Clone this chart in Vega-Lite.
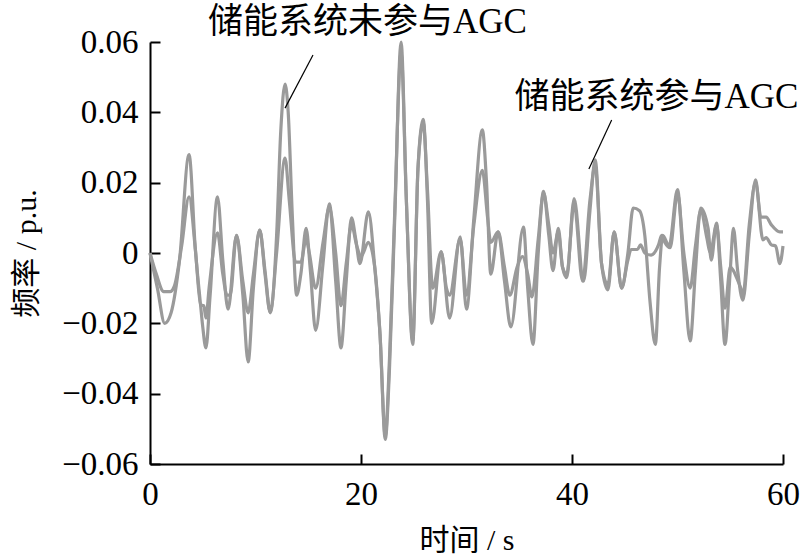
{
  "$schema": "https://vega.github.io/schema/vega-lite/v6.json",
  "width": 633,
  "height": 422,
  "autosize": {"type": "none"},
  "padding": {"left": 150, "top": 42, "right": 17, "bottom": 96},
  "background": "white",
  "config": {
    "view": {"stroke": null},
    "font": "Liberation Serif, Noto Sans CJK SC",
    "axis": {
      "domainColor": "black",
      "domainWidth": 2,
      "tickColor": "black",
      "tickWidth": 2,
      "tickSize": -10,
      "grid": false,
      "labelFont": "Liberation Serif",
      "labelFontSize": 33,
      "labelColor": "black",
      "titleFont": "Liberation Serif, Noto Sans CJK SC",
      "titleFontSize": 30,
      "titleFontWeight": "normal",
      "titleColor": "black"
    }
  },
  "datasets": {
    "lines": [
      {"s": "未参与", "t": 0, "v": 0}, {"s": "未参与", "t": 0.7, "v": -0.010}, {"s": "未参与", "t": 1.4, "v": -0.020}, {"s": "未参与", "t": 2.0, "v": -0.017}, {"s": "未参与", "t": 2.8, "v": -0.002}, {"s": "未参与", "t": 3.7, "v": 0.028}, {"s": "未参与", "t": 4.3, "v": 0.001}, {"s": "未参与", "t": 4.8, "v": -0.015}, {"s": "未参与", "t": 5.0, "v": -0.021}, {"s": "未参与", "t": 5.3, "v": -0.027}, {"s": "未参与", "t": 5.7, "v": -0.012}, {"s": "未参与", "t": 6.4, "v": 0.016}, {"s": "未参与", "t": 6.9, "v": -0.002}, {"s": "未参与", "t": 7.4, "v": -0.016}, {"s": "未参与", "t": 8.2, "v": 0.005}, {"s": "未参与", "t": 8.8, "v": -0.012}, {"s": "未参与", "t": 9.3, "v": -0.031}, {"s": "未参与", "t": 9.8, "v": -0.010}, {"s": "未参与", "t": 10.4, "v": 0.0065}, {"s": "未参与", "t": 10.9, "v": -0.006}, {"s": "未参与", "t": 11.4, "v": -0.017}, {"s": "未参与", "t": 12.0, "v": 0.005}, {"s": "未参与", "t": 12.4, "v": 0.035}, {"s": "未参与", "t": 12.8, "v": 0.048}, {"s": "未参与", "t": 13.1, "v": 0.040}, {"s": "未参与", "t": 13.5, "v": 0.010}, {"s": "未参与", "t": 13.9, "v": -0.012}, {"s": "未参与", "t": 14.3, "v": -0.006}, {"s": "未参与", "t": 14.8, "v": 0.007}, {"s": "未参与", "t": 15.2, "v": -0.005}, {"s": "未参与", "t": 15.7, "v": -0.022}, {"s": "未参与", "t": 16.4, "v": -0.003}, {"s": "未参与", "t": 17.0, "v": 0.014}, {"s": "未参与", "t": 17.6, "v": -0.008}, {"s": "未参与", "t": 18.1, "v": -0.027}, {"s": "未参与", "t": 18.6, "v": -0.008}, {"s": "未参与", "t": 19.1, "v": 0.010}, {"s": "未参与", "t": 19.5, "v": 0.004}, {"s": "未参与", "t": 19.9, "v": -0.003}, {"s": "未参与", "t": 20.7, "v": 0.0117}, {"s": "未参与", "t": 21.3, "v": -0.004}, {"s": "未参与", "t": 21.8, "v": -0.023}, {"s": "未参与", "t": 22.3, "v": -0.053}, {"s": "未参与", "t": 22.7, "v": -0.033}, {"s": "未参与", "t": 23.2, "v": 0.010}, {"s": "未参与", "t": 23.8, "v": 0.060}, {"s": "未参与", "t": 24.3, "v": 0.015}, {"s": "未参与", "t": 24.9, "v": -0.026}, {"s": "未参与", "t": 25.4, "v": 0.024}, {"s": "未参与", "t": 25.9, "v": 0.038}, {"s": "未参与", "t": 26.3, "v": 0.015}, {"s": "未参与", "t": 26.7, "v": -0.020}, {"s": "未参与", "t": 27.6, "v": 0.0003}, {"s": "未参与", "t": 28.4, "v": -0.0185}, {"s": "未参与", "t": 29.4, "v": 0.0046}, {"s": "未参与", "t": 30.0, "v": -0.016}, {"s": "未参与", "t": 30.7, "v": 0.010}, {"s": "未参与", "t": 31.5, "v": 0.035}, {"s": "未参与", "t": 31.9, "v": 0.020}, {"s": "未参与", "t": 32.3, "v": -0.006}, {"s": "未参与", "t": 33.0, "v": 0.006}, {"s": "未参与", "t": 33.6, "v": -0.008}, {"s": "未参与", "t": 34.2, "v": -0.021}, {"s": "未参与", "t": 35.4, "v": 0.0074}, {"s": "未参与", "t": 35.8, "v": -0.010}, {"s": "未参与", "t": 36.3, "v": -0.026}, {"s": "未参与", "t": 36.8, "v": 0.000}, {"s": "未参与", "t": 37.3, "v": 0.0175}, {"s": "未参与", "t": 37.8, "v": 0.005}, {"s": "未参与", "t": 38.2, "v": -0.005}, {"s": "未参与", "t": 38.7, "v": 0.007}, {"s": "未参与", "t": 39.1, "v": -0.004}, {"s": "未参与", "t": 39.5, "v": -0.007}, {"s": "未参与", "t": 40.2, "v": 0.0155}, {"s": "未参与", "t": 41.1, "v": -0.008}, {"s": "未参与", "t": 41.7, "v": 0.012}, {"s": "未参与", "t": 42.2, "v": 0.0265}, {"s": "未参与", "t": 42.8, "v": -0.003}, {"s": "未参与", "t": 43.4, "v": -0.0105}, {"s": "未参与", "t": 44.0, "v": 0.006}, {"s": "未参与", "t": 44.7, "v": -0.010}, {"s": "未参与", "t": 45.3, "v": 0.000}, {"s": "未参与", "t": 45.8, "v": 0.0128}, {"s": "未参与", "t": 46.4, "v": 0.012}, {"s": "未参与", "t": 46.9, "v": 0.005}, {"s": "未参与", "t": 47.4, "v": -0.014}, {"s": "未参与", "t": 47.9, "v": -0.026}, {"s": "未参与", "t": 48.3, "v": -0.004}, {"s": "未参与", "t": 48.6, "v": 0.005}, {"s": "未参与", "t": 49.2, "v": 0.002}, {"s": "未参与", "t": 50.0, "v": 0.018}, {"s": "未参与", "t": 50.6, "v": -0.005}, {"s": "未参与", "t": 51.2, "v": -0.025}, {"s": "未参与", "t": 51.7, "v": -0.005}, {"s": "未参与", "t": 52.2, "v": 0.0128}, {"s": "未参与", "t": 52.9, "v": 0.007}, {"s": "未参与", "t": 53.2, "v": -0.002}, {"s": "未参与", "t": 53.7, "v": 0.0085}, {"s": "未参与", "t": 54.1, "v": -0.008}, {"s": "未参与", "t": 54.5, "v": -0.026}, {"s": "未参与", "t": 55.0, "v": -0.005}, {"s": "未参与", "t": 55.3, "v": 0.007}, {"s": "未参与", "t": 55.7, "v": -0.005}, {"s": "未参与", "t": 56.2, "v": -0.0134}, {"s": "未参与", "t": 56.8, "v": 0.005}, {"s": "未参与", "t": 57.4, "v": 0.0208}, {"s": "未参与", "t": 57.9, "v": 0.0102}, {"s": "未参与", "t": 58.4, "v": 0.0102}, {"s": "未参与", "t": 58.9, "v": 0.008}, {"s": "未参与", "t": 59.7, "v": 0.006}, {"s": "未参与", "t": 60.0, "v": 0.006},
      {"s": "参与", "t": 0, "v": 0}, {"s": "参与", "t": 0.6, "v": -0.006}, {"s": "参与", "t": 1.3, "v": -0.011}, {"s": "参与", "t": 1.9, "v": -0.011}, {"s": "参与", "t": 2.3, "v": -0.0095}, {"s": "参与", "t": 3.0, "v": 0.002}, {"s": "参与", "t": 3.7, "v": 0.016}, {"s": "参与", "t": 4.3, "v": 0.001}, {"s": "参与", "t": 4.8, "v": -0.0148}, {"s": "参与", "t": 5.1, "v": -0.015}, {"s": "参与", "t": 5.3, "v": -0.0185}, {"s": "参与", "t": 5.6, "v": -0.010}, {"s": "参与", "t": 6.4, "v": 0.0057}, {"s": "参与", "t": 6.9, "v": -0.006}, {"s": "参与", "t": 7.3, "v": -0.012}, {"s": "参与", "t": 7.6, "v": -0.012}, {"s": "参与", "t": 8.2, "v": 0.005}, {"s": "参与", "t": 8.8, "v": -0.008}, {"s": "参与", "t": 9.3, "v": -0.017}, {"s": "参与", "t": 9.8, "v": -0.006}, {"s": "参与", "t": 10.4, "v": 0.0065}, {"s": "参与", "t": 10.9, "v": -0.005}, {"s": "参与", "t": 11.4, "v": -0.0168}, {"s": "参与", "t": 12.0, "v": 0.000}, {"s": "参与", "t": 12.8, "v": 0.027}, {"s": "参与", "t": 13.2, "v": 0.015}, {"s": "参与", "t": 13.8, "v": -0.0026}, {"s": "参与", "t": 14.3, "v": -0.0026}, {"s": "参与", "t": 14.8, "v": 0.004}, {"s": "参与", "t": 15.1, "v": 0.000}, {"s": "参与", "t": 15.7, "v": -0.010}, {"s": "参与", "t": 16.4, "v": 0.003}, {"s": "参与", "t": 17.0, "v": 0.013}, {"s": "参与", "t": 17.6, "v": 0.000}, {"s": "参与", "t": 18.1, "v": -0.015}, {"s": "参与", "t": 18.6, "v": -0.003}, {"s": "参与", "t": 19.1, "v": 0.008}, {"s": "参与", "t": 19.6, "v": 0.002}, {"s": "参与", "t": 20.0, "v": -0.001}, {"s": "参与", "t": 20.7, "v": 0.003}, {"s": "参与", "t": 21.3, "v": -0.004}, {"s": "参与", "t": 21.8, "v": -0.023}, {"s": "参与", "t": 22.3, "v": -0.052}, {"s": "参与", "t": 22.7, "v": -0.030}, {"s": "参与", "t": 23.2, "v": 0.012}, {"s": "参与", "t": 23.8, "v": 0.057}, {"s": "参与", "t": 24.3, "v": 0.015}, {"s": "参与", "t": 24.9, "v": -0.025}, {"s": "参与", "t": 25.4, "v": 0.024}, {"s": "参与", "t": 25.9, "v": 0.037}, {"s": "参与", "t": 26.3, "v": 0.018}, {"s": "参与", "t": 26.8, "v": -0.010}, {"s": "参与", "t": 27.6, "v": 0.0003}, {"s": "参与", "t": 28.1, "v": -0.010}, {"s": "参与", "t": 28.4, "v": -0.012}, {"s": "参与", "t": 29.4, "v": 0.004}, {"s": "参与", "t": 30.0, "v": -0.012}, {"s": "参与", "t": 30.7, "v": 0.008}, {"s": "参与", "t": 31.5, "v": 0.0235}, {"s": "参与", "t": 32.0, "v": 0.010}, {"s": "参与", "t": 32.3, "v": 0.003}, {"s": "参与", "t": 33.0, "v": 0.006}, {"s": "参与", "t": 33.6, "v": -0.004}, {"s": "参与", "t": 34.1, "v": -0.012}, {"s": "参与", "t": 34.8, "v": -0.004}, {"s": "参与", "t": 35.3, "v": -0.001}, {"s": "参与", "t": 35.8, "v": -0.006}, {"s": "参与", "t": 36.2, "v": -0.0125}, {"s": "参与", "t": 36.8, "v": 0.004}, {"s": "参与", "t": 37.3, "v": 0.017}, {"s": "参与", "t": 37.8, "v": 0.008}, {"s": "参与", "t": 38.2, "v": 0.000}, {"s": "参与", "t": 38.7, "v": 0.006}, {"s": "参与", "t": 39.1, "v": -0.004}, {"s": "参与", "t": 39.5, "v": -0.006}, {"s": "参与", "t": 40.2, "v": 0.014}, {"s": "参与", "t": 41.0, "v": -0.008}, {"s": "参与", "t": 41.7, "v": 0.015}, {"s": "参与", "t": 42.2, "v": 0.025}, {"s": "参与", "t": 42.8, "v": -0.003}, {"s": "参与", "t": 43.4, "v": -0.009}, {"s": "参与", "t": 44.0, "v": 0.006}, {"s": "参与", "t": 44.7, "v": -0.010}, {"s": "参与", "t": 45.3, "v": -0.002}, {"s": "参与", "t": 45.6, "v": 0.001}, {"s": "参与", "t": 46.2, "v": 0.001}, {"s": "参与", "t": 46.5, "v": 0.0023}, {"s": "参与", "t": 46.9, "v": 0.000}, {"s": "参与", "t": 47.5, "v": -0.0006}, {"s": "参与", "t": 48.2, "v": 0.0023}, {"s": "参与", "t": 48.5, "v": 0.005}, {"s": "参与", "t": 48.8, "v": 0.003}, {"s": "参与", "t": 49.3, "v": 0.0015}, {"s": "参与", "t": 50.0, "v": 0.017}, {"s": "参与", "t": 50.6, "v": 0.000}, {"s": "参与", "t": 51.2, "v": -0.010}, {"s": "参与", "t": 51.7, "v": 0.002}, {"s": "参与", "t": 52.2, "v": 0.012}, {"s": "参与", "t": 52.8, "v": 0.004}, {"s": "参与", "t": 53.1, "v": 0.000}, {"s": "参与", "t": 53.7, "v": 0.008}, {"s": "参与", "t": 54.1, "v": -0.004}, {"s": "参与", "t": 54.5, "v": -0.0157}, {"s": "参与", "t": 55.0, "v": -0.004}, {"s": "参与", "t": 55.3, "v": -0.005}, {"s": "参与", "t": 55.6, "v": -0.007}, {"s": "参与", "t": 56.0, "v": -0.010}, {"s": "参与", "t": 56.2, "v": -0.012}, {"s": "参与", "t": 56.8, "v": 0.008}, {"s": "参与", "t": 57.4, "v": 0.020}, {"s": "参与", "t": 58.1, "v": 0.0037}, {"s": "参与", "t": 58.4, "v": 0.0044}, {"s": "参与", "t": 58.9, "v": 0.0023}, {"s": "参与", "t": 59.3, "v": 0.002}, {"s": "参与", "t": 59.7, "v": -0.003}, {"s": "参与", "t": 60.0, "v": 0.002}
    ],
    "leaders": [
      {"t": 15.45, "v": 0.0563, "t2": 12.8, "v2": 0.0412},
      {"t": 43.76, "v": 0.0378, "t2": 41.6, "v2": 0.0239}
    ],
    "labels": [
      {"t": 20.6, "v": 0.0657, "label": "储能系统未参与AGC"},
      {"t": 48.0, "v": 0.0444, "label": "储能系统参与AGC"}
    ]
  },
  "layer": [
    {
      "data": {"name": "lines"},
      "mark": {"type": "line", "interpolate": "monotone", "color": "#9a9a9a", "strokeWidth": 3.2, "clip": false},
      "encoding": {
        "x": {
          "field": "t", "type": "quantitative",
          "scale": {"domain": [0, 60], "nice": false, "zero": false},
          "axis": {"values": [0, 20, 40, 60], "title": "时间 / s", "labelPadding": 24, "titlePadding": 14, "labelFlush": false}
        },
        "y": {
          "field": "v", "type": "quantitative",
          "scale": {"domain": [-0.06, 0.06], "nice": false},
          "axis": {"values": [-0.06, -0.04, -0.02, 0, 0.02, 0.04, 0.06], "labelExpr": "datum.value == 0 ? '0' : format(datum.value, '.2f')", "title": "频率 / p.u.", "labelPadding": 22, "titlePadding": 20, "labelFlush": false}
        },
        "detail": {"field": "s"}
      }
    },
    {
      "data": {"name": "leaders"},
      "mark": {"type": "rule", "color": "black", "strokeWidth": 1.2},
      "encoding": {
        "x": {"field": "t", "type": "quantitative"},
        "y": {"field": "v", "type": "quantitative"},
        "x2": {"field": "t2"},
        "y2": {"field": "v2"}
      }
    },
    {
      "data": {"name": "labels"},
      "mark": {"type": "text", "fontSize": 35, "font": "Liberation Serif, Noto Sans CJK SC", "color": "black", "align": "center", "baseline": "middle"},
      "encoding": {
        "x": {"field": "t", "type": "quantitative"},
        "y": {"field": "v", "type": "quantitative"},
        "text": {"field": "label"}
      }
    }
  ]
}
